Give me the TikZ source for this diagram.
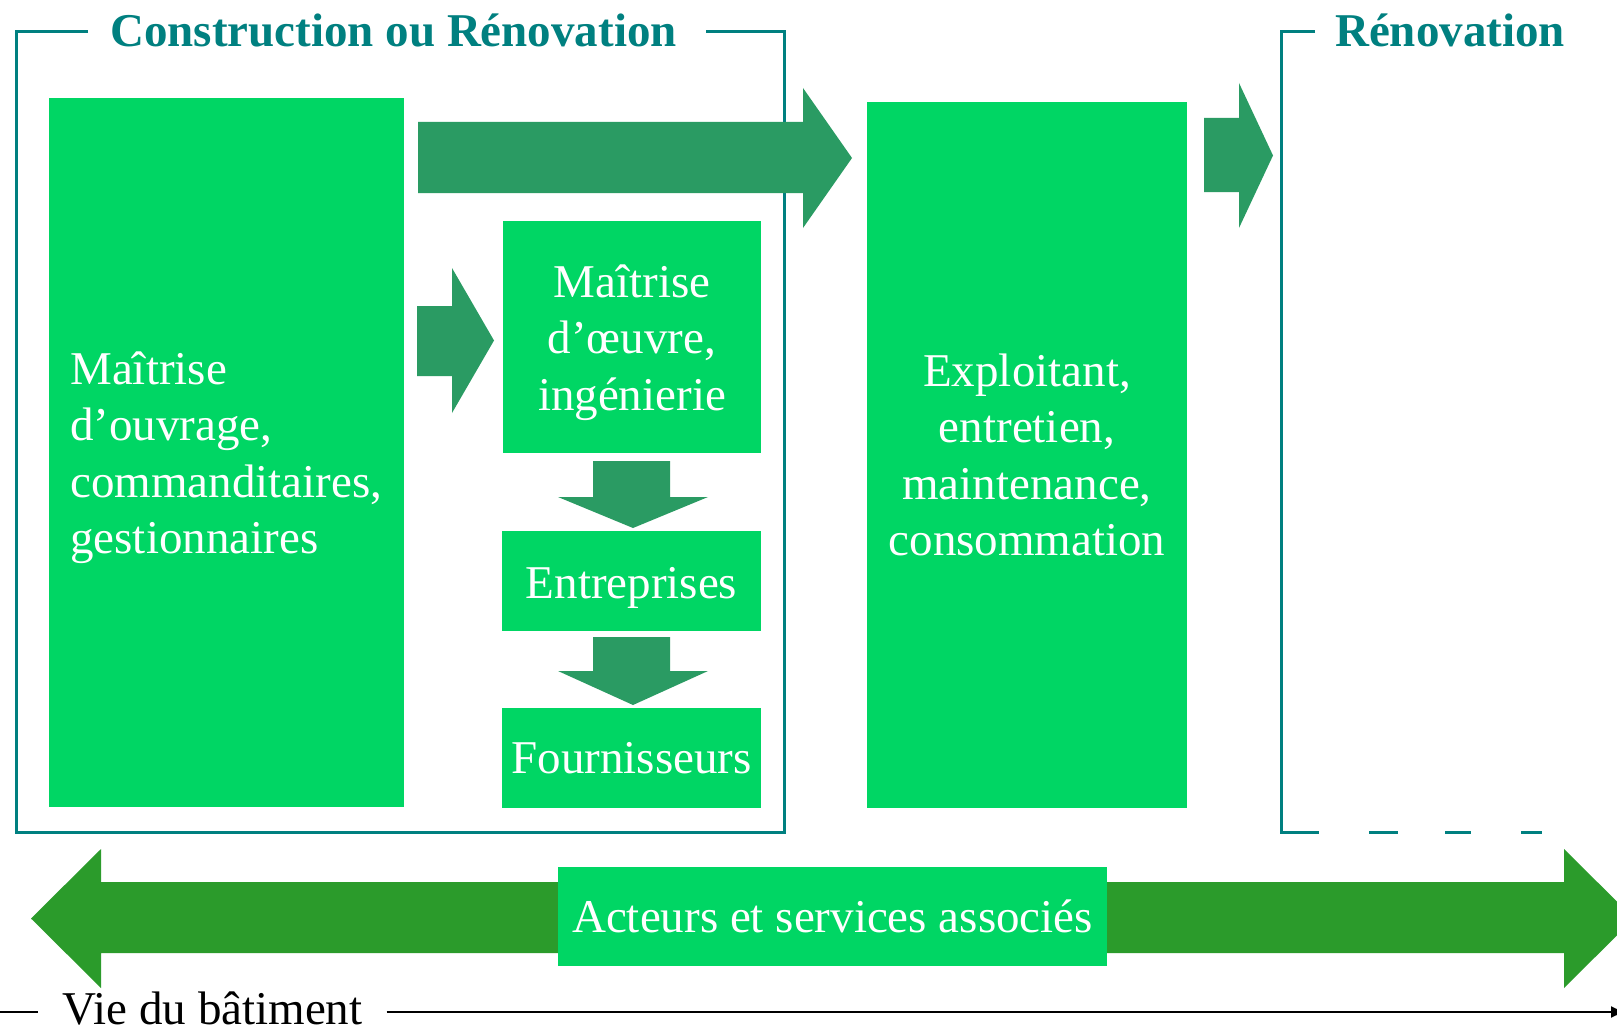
\documentclass[tikz,border=0pt]{standalone}
\usepackage{fontspec}
\setmainfont{Liberation Serif}
\usetikzlibrary{arrows.meta}
\definecolor{boxgreen}{RGB}{0,214,100}
\definecolor{arrgreen}{RGB}{42,155,99}
\definecolor{busgreen}{RGB}{43,155,43}
\definecolor{frameteal}{RGB}{0,128,128}
\newcommand\bodysize{\fontsize{47}{56.5}\selectfont}
\newcommand\myTopStrut{\rule{0pt}{44pt}}
% right block arrow: color, x0, xbase, xtip, body top, body bottom, head top, head bottom
\newcommand\myArrR[8]{\fill[#1] (#2,#5) -- (#3,#5) -- (#3,#7) -- (#4,{(#7+#8)/2}) -- (#3,#8) -- (#3,#6) -- (#2,#6) -- cycle;}
% down block arrow: color, y0, ybase, ytip, body left, body right, head left, head right
\newcommand\myArrD[8]{\fill[#1] (#5,#2) -- (#5,#3) -- (#7,#3) -- ({(#7+#8)/2},#4) -- (#8,#3) -- (#6,#3) -- (#6,#2) -- cycle;}
\begin{document}
\begin{tikzpicture}[x=1pt,y=-1pt,
  gbox/.style={fill=boxgreen, text=white, inner sep=0pt, font=\bodysize},
  frameline/.style={draw=frameteal, line width=3pt},
  titletext/.style={text=frameteal, font=\bodysize\bfseries, inner sep=0pt, anchor=base}]
\useasboundingbox (0,0) rectangle (1617,1030);
\clip (0,0) rectangle (1617,1030);
\fill[white] (0,0) rectangle (1617,1030);

% frames
\draw[frameline] (88,32) -- (16.5,32) -- (16.5,832) -- (784,832) -- (784,32) -- (706,32);
\draw[frameline] (1315,32) -- (1281,32) -- (1281,832) -- (1319,832);
\draw[frameline, dash pattern=on 29pt off 47pt on 26pt off 50pt on 21pt off 60pt] (1369,832) -- (1542,832);

% titles
\node[titletext] (t1) at (393.5,46.5) {Construction ou Rénovation};
\node[titletext] (t2) at (1450,46.5) {Rénovation};

% boxes
\node[gbox, minimum width=355.5, minimum height=708.5, align=left] (moa) at (226.25,452.25)
  {\myTopStrut Maîtrise\\d’ouvrage,\\commanditaires,\\gestionnaires};
\node[gbox, minimum width=258, minimum height=232, align=center] (moe) at (632,337)
  {\myTopStrut Maîtrise\\d’œuvre,\\ingénierie};
\node[gbox, minimum width=259, minimum height=100] (ent) at (631.5,581) {\myTopStrut Entreprises};
\node[gbox, minimum width=259, minimum height=100] (fou) at (631.5,758) {Fournisseurs};
\node[gbox, minimum width=320, minimum height=705.5, align=center] (exp) at (1027,454.75)
  {Exploitant,\\entretien,\\maintenance,\\consommation};

% block arrows
\myArrR{arrgreen}{418}{803}{852}{122}{193}{88}{228}
\myArrR{arrgreen}{417}{452}{494}{306}{376}{268}{413}
\myArrR{arrgreen}{1204}{1239}{1273}{118}{192}{83}{228}
\myArrD{arrgreen}{461}{497}{528}{593}{670}{558}{708}
\myArrD{arrgreen}{637}{671}{705}{593}{670}{558}{708}

% bottom double arrow
\fill[busgreen] (31,918.5) -- (101,849) -- (101,882) -- (1564,882) -- (1564,849) -- (1634,918.5)
  -- (1564,988) -- (1564,953) -- (101,953) -- (101,988) -- cycle;
\node[gbox, minimum width=549, minimum height=99] (act) at (832.5,916.5) {Acteurs et services associés};

% timeline
\coordinate (tl0) at (0,1012);
\coordinate (tl1) at (1626,1012);
\node[font=\fontsize{47}{56}\selectfont, inner xsep=24pt, inner ysep=0pt, anchor=base] (vie) at (212.5,1024) {Vie du bâtiment};
\draw[line width=2pt] (tl0) -- (vie.west |- tl0);
\draw[line width=2pt, -{Latex[length=15pt,width=12pt]}] (vie.east |- tl0) -- (tl1);
\end{tikzpicture}
\end{document}
